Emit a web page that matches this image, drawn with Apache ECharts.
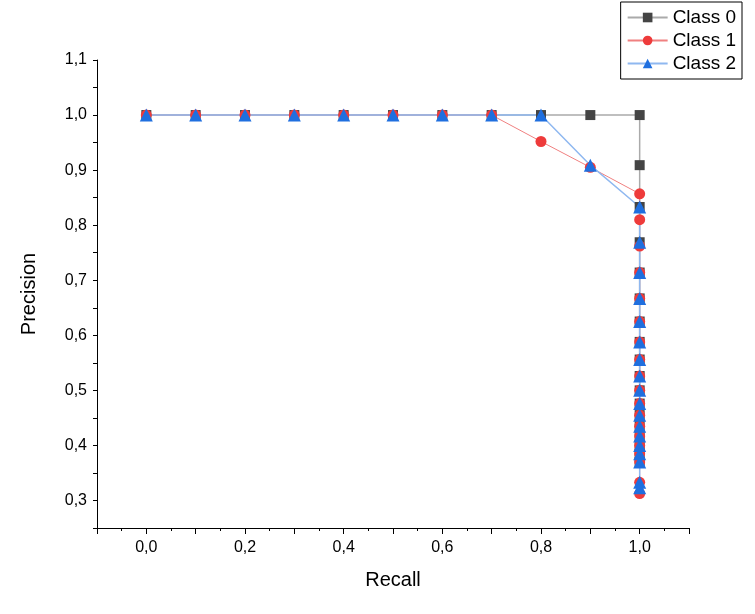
<!DOCTYPE html>
<html>
<head>
<meta charset="utf-8">
<script src="https://cdn.jsdelivr.net/npm/echarts@6/dist/echarts.min.js"></script>
<style>html,body{margin:0;background:#fff}#main{width:755px;height:614px}</style>
</head>
<body>
<div id="main"></div>
<script>
// 数据
var tail = [0.714, 0.667, 0.625, 0.588, 0.556, 0.526, 0.5, 0.476, 0.455, 0.435, 0.417, 0.4, 0.385, 0.37];
var recallHead0 = [0, 0.1, 0.2, 0.3, 0.4, 0.5, 0.6, 0.7, 0.8, 0.9];
var precHead0 = [1, 1, 1, 1, 1, 1, 1, 1, 1, 1];
var recallHead1 = [0, 0.1, 0.2, 0.3, 0.4, 0.5, 0.6, 0.7, 0.8, 0.9];
var precHead1 = [1, 1, 1, 1, 1, 1, 1, 1, 0.952, 0.905];
var recallHead2 = [0, 0.1, 0.2, 0.3, 0.4, 0.5, 0.6, 0.7, 0.8, 0.9];
var precHead2 = [1, 1, 1, 1, 1, 1, 1, 1, 1, 0.909];
var precTail0 = [1, 0.909, 0.833, 0.769].concat(tail);
var precTail1 = [0.857, 0.81, 0.762].concat(tail, [0.333, 0.3125]);
var precTail2 = [0.833, 0.769].concat(tail, [0.333, 0.323]);

function build(rh, ph, pt) {
    var d = rh.map(function (r, i) { return [r, ph[i]]; });
    pt.forEach(function (p) { d.push([1, p]); });
    return d;
}
function fmt(v) { return v.toFixed(1).replace('.', ','); }

var chart = echarts.init(document.getElementById('main'));
var lbl = { color: '#000', fontSize: 16, fontFamily: 'Arial, Liberation Sans' };
chart.setOption({
    animation: false,
    grid: { left: 97, right: 66, top: 60, bottom: 86 },
    legend: {
        orient: 'vertical', right: 13, top: 2, itemGap: 4, itemWidth: 40, itemHeight: 12,
        borderColor: '#000', borderWidth: 1, padding: [6, 6, 6, 6],
        textStyle: { fontSize: 19, fontFamily: 'Arial, Liberation Sans', color: '#000' },
        data: ['Class 0', 'Class 1', 'Class 2']
    },
    xAxis: {
        type: 'value', min: -0.1, max: 1.1, interval: 0.1,
        name: 'Recall', nameLocation: 'middle', nameGap: 42,
        nameTextStyle: { fontSize: 20, fontFamily: 'Arial, Liberation Sans', color: '#000' },
        axisLine: { onZero: false, lineStyle: { color: '#000' } },
        axisTick: { lineStyle: { color: '#000' }, length: 6 },
        minorTick: { show: true, splitNumber: 2, length: 3, lineStyle: { color: '#000' } },
        splitLine: { show: false },
        axisLabel: Object.assign({}, lbl, { margin: 12, formatter: function (v) {
            var r = Math.round(v * 10);
            return (r < 0 || r > 10 || r % 2) ? '' : fmt(v);
        } })
    },
    yAxis: {
        type: 'value', min: 0.25, max: 1.1, interval: 0.05,
        name: 'Precision', nameLocation: 'middle', nameGap: 58,
        nameTextStyle: { fontSize: 20, fontFamily: 'Arial, Liberation Sans', color: '#000' },
        axisLine: { show: true, onZero: false, lineStyle: { color: '#000' } },
        axisTick: { show: true, lineStyle: { color: '#000' }, length: 4 },
        splitLine: { show: false },
        axisLabel: Object.assign({}, lbl, { margin: 10, formatter: function (v) {
            var r = Math.round(v * 100);
            return r % 10 ? '' : fmt(v);
        } })
    },
    series: [
        { name: 'Class 0', type: 'line', symbol: 'rect', symbolSize: 10,
          itemStyle: { color: '#444' }, lineStyle: { color: '#aaa', width: 1.5 },
          data: build(recallHead0, precHead0, precTail0) },
        { name: 'Class 1', type: 'line', symbol: 'circle', symbolSize: 11,
          itemStyle: { color: '#ee3b3b' }, lineStyle: { color: '#f08080', width: 1 },
          data: build(recallHead1, precHead1, precTail1) },
        { name: 'Class 2', type: 'line', symbol: 'triangle', symbolSize: 13,
          itemStyle: { color: '#1f6fdf' }, lineStyle: { color: '#8fb8f0', width: 1.5 },
          data: build(recallHead2, precHead2, precTail2) }
    ]
});
</script>
</body>
</html>
